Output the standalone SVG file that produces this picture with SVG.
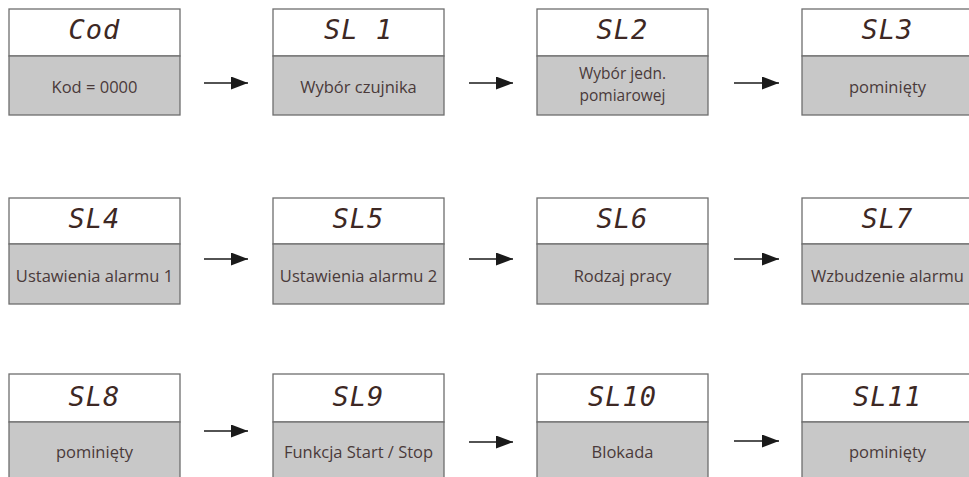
<svg xmlns="http://www.w3.org/2000/svg" width="969" height="477" viewBox="0 0 969 477">
<style>
.top{fill:#ffffff;stroke:#6e6e6e;stroke-width:1.3}
.bot{fill:#c8c8c8;stroke:#6e6e6e;stroke-width:1.3}
.hdr{font-family:"DejaVu Sans Mono",monospace;font-style:italic;font-size:27px;fill:#3d2824;text-anchor:middle;letter-spacing:1px}
.lbl{font-family:"Open Sans","Noto Sans",sans-serif;font-size:16.5px;fill:#4a3a3a;text-anchor:middle}
.lbl2{font-size:15.5px}
.arr{stroke:#1a1a1a;stroke-width:1.6;fill:none;marker-end:url(#ah)}
</style>
<defs>
<marker id="ah" markerUnits="userSpaceOnUse" markerWidth="18" markerHeight="14" refX="17" refY="6.5" orient="auto">
<path d="M0,0 L17,6.5 L0,13 Z" fill="#1a1a1a"/>
</marker>
</defs>
<rect width="969" height="477" fill="#ffffff"/>

<g id="n-cod"><rect class="top" x="9" y="9" width="171" height="47"/><rect class="bot" x="9" y="56" width="171" height="59"/><text class="hdr" x="94.5" y="39">Cod</text><text class="lbl" x="94.5" y="93">Kod = 0000</text></g>
<g id="n-sl1"><rect class="top" x="273" y="9" width="171" height="47"/><rect class="bot" x="273" y="56" width="171" height="59"/><text class="hdr" x="358.5" y="39">SL 1</text><text class="lbl" x="358.5" y="93">Wybór czujnika</text></g>
<g id="n-sl2"><rect class="top" x="537" y="9" width="171" height="47"/><rect class="bot" x="537" y="56" width="171" height="59"/><text class="hdr" x="622.5" y="39">SL2</text><text class="lbl lbl2" x="622.5" y="79">Wybór jedn.</text><text class="lbl lbl2" x="622.5" y="100.5">pomiarowej</text></g>
<g id="n-sl3"><rect class="top" x="802" y="9" width="171" height="47"/><rect class="bot" x="802" y="56" width="171" height="59"/><text class="hdr" x="887.5" y="39">SL3</text><text class="lbl" x="887.5" y="93">pominięty</text></g>

<g id="n-sl4"><rect class="top" x="9" y="198" width="171" height="46"/><rect class="bot" x="9" y="244" width="171" height="60"/><text class="hdr" x="94.5" y="228">SL4</text><text class="lbl" x="94.5" y="281.5">Ustawienia alarmu 1</text></g>
<g id="n-sl5"><rect class="top" x="273" y="198" width="171" height="46"/><rect class="bot" x="273" y="244" width="171" height="60"/><text class="hdr" x="358.5" y="228">SL5</text><text class="lbl" x="358.5" y="281.5">Ustawienia alarmu 2</text></g>
<g id="n-sl6"><rect class="top" x="537" y="198" width="171" height="46"/><rect class="bot" x="537" y="244" width="171" height="60"/><text class="hdr" x="622.5" y="228">SL6</text><text class="lbl" x="622.5" y="281.5">Rodzaj pracy</text></g>
<g id="n-sl7"><rect class="top" x="802" y="198" width="171" height="46"/><rect class="bot" x="802" y="244" width="171" height="60"/><text class="hdr" x="887.5" y="228">SL7</text><text class="lbl" x="887.5" y="281.5">Wzbudzenie alarmu</text></g>

<g id="n-sl8"><rect class="top" x="9" y="374" width="171" height="48"/><rect class="bot" x="9" y="422" width="171" height="60"/><text class="hdr" x="94.5" y="405.5">SL8</text><text class="lbl" x="94.5" y="458">pominięty</text></g>
<g id="n-sl9"><rect class="top" x="273" y="374" width="171" height="48"/><rect class="bot" x="273" y="422" width="171" height="60"/><text class="hdr" x="358.5" y="405.5">SL9</text><text class="lbl" x="358.5" y="458">Funkcja Start / Stop</text></g>
<g id="n-sl10"><rect class="top" x="537" y="374" width="171" height="48"/><rect class="bot" x="537" y="422" width="171" height="60"/><text class="hdr" x="622.5" y="405.5">SL10</text><text class="lbl" x="622.5" y="458">Blokada</text></g>
<g id="n-sl11"><rect class="top" x="802" y="374" width="171" height="48"/><rect class="bot" x="802" y="422" width="171" height="60"/><text class="hdr" x="887.5" y="405.5">SL11</text><text class="lbl" x="887.5" y="458">pominięty</text></g>

<g id="connectors">
<line class="arr" x1="204" y1="83" x2="248" y2="83"/>
<line class="arr" x1="469" y1="83" x2="513" y2="83"/>
<line class="arr" x1="734" y1="83" x2="779" y2="83"/>
<line class="arr" x1="204" y1="259" x2="248" y2="259"/>
<line class="arr" x1="469" y1="259" x2="513" y2="259"/>
<line class="arr" x1="734" y1="259" x2="779" y2="259"/>
<line class="arr" x1="204" y1="431" x2="248" y2="431"/>
<line class="arr" x1="469" y1="442" x2="513" y2="442"/>
<line class="arr" x1="734" y1="441" x2="779" y2="441"/>
</g>
</svg>
